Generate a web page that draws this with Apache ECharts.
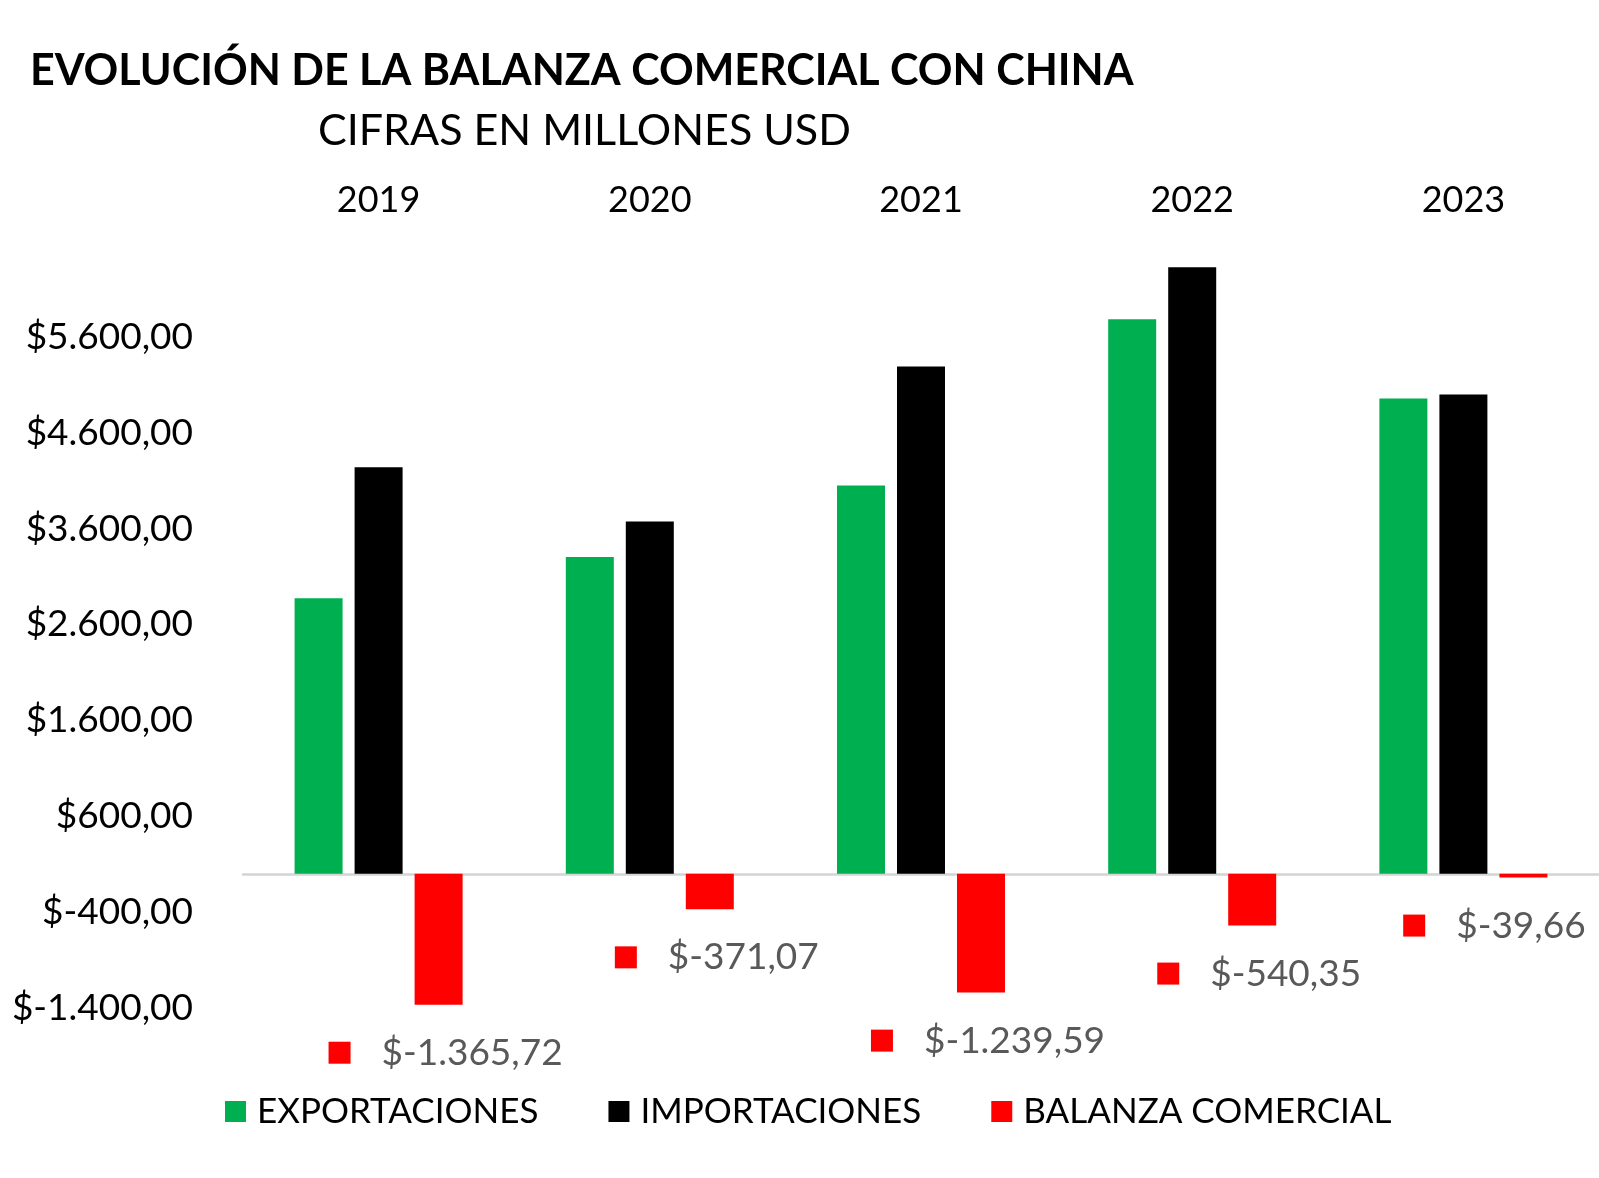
<!DOCTYPE html>
<html>
<head>
<meta charset="utf-8">
<script src="https://cdn.jsdelivr.net/npm/echarts@6/dist/echarts.min.js"></script>
<style>
  html, body { margin: 0; padding: 0; background: #ffffff; }
  #chart { width: 1599px; height: 1178px; }
</style>
</head>
<body>
<div id="chart"></div>
<script>
const years = ['2019', '2020', '2021', '2022', '2023']
const exportaciones = [2875, 3303, 4050, 5785, 4958]
const importaciones = [4241, 3674, 5290, 6325, 4998]
const balanza = [-1365.72, -371.07, -1239.59, -540.35, -39.66]
const yTicks = { min: -1400, max: 6600, interval: 1000 }

const FONT = 'Lato, "Open Sans", sans-serif'

// $-1.365,72 style (es, always group thousands)
const fmt = (v) => {
  const neg = v < 0
  const parts = Math.abs(v).toFixed(2).split('.')
  const ent = parts[0].replace(/\B(?=(\d{3})+(?!\d))/g, '.')
  return '$' + (neg ? '-' : '') + ent + ',' + parts[1]
}

const chart = echarts.init(document.getElementById('chart'), null, { renderer: 'canvas' })

const balanceData = balanza.map((v, i) =>
  i === balanza.length - 1 ? { value: v, label: { offset: [-29, 0] } } : v
)

const option = {
  animation: false,
  backgroundColor: '#ffffff',
  title: [
    {
      text: 'EVOLUCIÓN DE LA BALANZA COMERCIAL CON CHINA',
      left: 25,
      top: 44,
      textStyle: { fontFamily: FONT, fontSize: 43, fontWeight: 'bold', color: '#000000', lineHeight: 44 },
    },
    {
      text: 'CIFRAS EN MILLONES USD',
      left: 313,
      top: 104,
      textStyle: { fontFamily: FONT, fontSize: 43, fontWeight: 'normal', color: '#000000', lineHeight: 44 },
    },
  ],
  legend: {
    left: 220,
    top: 1089,
    itemWidth: 21,
    itemHeight: 21,
    itemGap: 70,
    icon: 'rect',
    textStyle: { fontFamily: FONT, fontSize: 35, color: '#000000', padding: [0, 0, 0, 6] },
    data: ['EXPORTACIONES', 'IMPORTACIONES', 'BALANZA COMERCIAL'],
  },
  grid: { left: 243, right: 0, top: 241, bottom: 1178 - 1008 },
  xAxis: [
    {
      type: 'category',
      data: years,
      position: 'top',
      axisLine: { show: false, onZero: false },
      axisTick: { show: false },
      axisLabel: { fontFamily: FONT, fontSize: 36, color: '#000000', margin: 23 },
    },
    {
      type: 'category',
      data: years,
      position: 'bottom',
      axisLine: { show: true, onZero: true, lineStyle: { color: '#d4d4d4', width: 2.5 } },
      axisTick: { show: false },
      axisLabel: { show: false },
    },
  ],
  yAxis: {
    type: 'value',
    min: yTicks.min,
    max: yTicks.max,
    interval: yTicks.interval,
    axisLine: { show: false },
    axisTick: { show: false },
    splitLine: { show: false },
    axisLabel: {
      showMaxLabel: false,
      fontFamily: FONT,
      fontSize: 37,
      color: '#000000',
      margin: 50,
      formatter: (v) => fmt(v),
    },
  },
  series: [
    {
      name: 'EXPORTACIONES',
      type: 'bar',
      xAxisIndex: 0,
      data: exportaciones,
      barWidth: 48,
      barGap: '25%',
      itemStyle: { color: '#00B050' },
    },
    {
      name: 'IMPORTACIONES',
      type: 'bar',
      xAxisIndex: 0,
      data: importaciones,
      barWidth: 48,
      barGap: '25%',
      itemStyle: { color: '#000000' },
    },
    {
      name: 'BALANZA COMERCIAL',
      type: 'bar',
      xAxisIndex: 0,
      data: balanceData,
      barWidth: 48,
      barGap: '25%',
      itemStyle: { color: '#FF0000' },
      label: {
        show: true,
        position: 'bottom',
        distance: 28,
        offset: [7, 0],
        formatter: (p) => '{sq|}{t|' + fmt(p.value) + '}',
        rich: {
          sq: { width: 22, height: 22, backgroundColor: '#FF0000' },
          t: { fontFamily: FONT, fontSize: 37, color: '#595959', lineHeight: 40, padding: [0, 0, 0, 31] },
        },
      },
    },
  ],
}

chart.setOption(option)
</script>
</body>
</html>
